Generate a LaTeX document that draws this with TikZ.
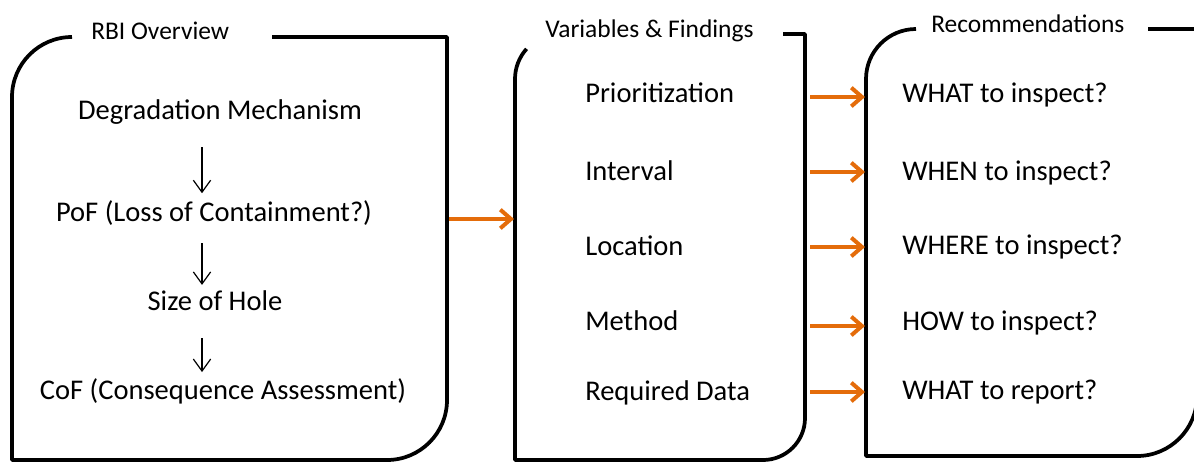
\documentclass[tikz,border=0pt]{standalone}
\usepackage{fontspec}
\setmainfont{Carlito}
\usetikzlibrary{positioning,calc,arrows.meta}
\definecolor{rbiorange}{RGB}{228,108,10}

\begin{document}
\begin{tikzpicture}[x=0.75pt, y=0.75pt,
    frame/.style={line width=2.8pt, line join=round},
    title/.style={anchor=base west, inner sep=0pt, font=\fontsize{19.1}{23}\selectfont},
    item/.style={anchor=base, inner sep=0pt, text height=15pt, text depth=4.5pt, font=\fontsize{21.4}{26}\selectfont},
    entry/.style={item, anchor=base west},
    down/.style={-{Straight Barb[length=9pt,width=13pt]}, line width=0.9pt},
    flow/.style={-{Straight Barb[length=8pt,width=14pt]}, rbiorange, line width=3pt}]
    \useasboundingbox (0,0) rectangle (1194,462);

    % frames
    \draw[frame] (272,425) -- (447,425) -- (447,62) arc (0:-90:60) -- (12,2) -- (12,365) arc (180:90:60);
    \draw[frame] (783,428) -- (805,428) -- (805,44) arc (0:-90:42) -- (515,2) -- (515,383) arc (180:138:45);
    \draw[frame] (1148,433) -- (1197,433) -- (1197,66) arc (0:-90:60) -- (866,6) -- (866,383) arc (180:90:50);

    % titles
    \node[title] (rbi)  at (91,423)  {RBI Overview};
    \node[title] (vars) at (545,425) {Variables \& Findings};
    \node[title] (recs) at (931,430) {Recommendations};

    % RBI chain
    \node[item] (deg)  at (220,342.5) {Degradation Mechanism};
    \node[item] (pof)  at (214,240.5) {PoF (Loss of Containment?)};
    \node[item] (hole) at (215,151.5) {Size of Hole};
    \node[item] (cof)  at (223,63)    {CoF (Consequence Assessment)};
    \coordinate (chain) at (202,0);
    \foreach \a/\b/\s/\e in {deg/pof/16pt/6pt, pof/hole/11.5pt/4pt, hole/cof/16pt/5pt}
        \draw[down, shorten <=\s, shorten >=\e] (\a.south -| chain) -- (\b.north -| chain);

    % findings
    \node[entry] (prio) at (585,360) {Prioritization};
    \node[entry] (intv) at (585,282) {Interval};
    \node[entry] (loc)  at (585,207) {Location};
    \node[entry] (meth) at (585,132) {Method};
    \node[entry] (data) at (585,62)  {Required Data};

    % recommendations
    \node[entry] (what)   at (902,360) {WHAT to inspect?};
    \node[entry] (when)   at (902,282) {WHEN to inspect?};
    \node[entry] (where)  at (902,208) {WHERE to inspect?};
    \node[entry] (how)    at (902,132) {HOW to inspect?};
    \node[entry] (report) at (902,63)  {WHAT to report?};

    % orange arrows
    \coordinate (rbiE)  at (449,243);
    \coordinate (varsW) at (514,243);
    \draw[flow] (rbiE) -- (varsW);
    \coordinate (varsE) at (810,0);
    \coordinate (recsW) at (865,0);
    \foreach \tgt/\dy in {what/5, when/8, where/7, how/4, report/7}
        \draw[flow] ($(varsE |- \tgt.base)+(0,\dy)$) -- ($(recsW |- \tgt.base)+(0,\dy)$);
\end{tikzpicture}
\end{document}
